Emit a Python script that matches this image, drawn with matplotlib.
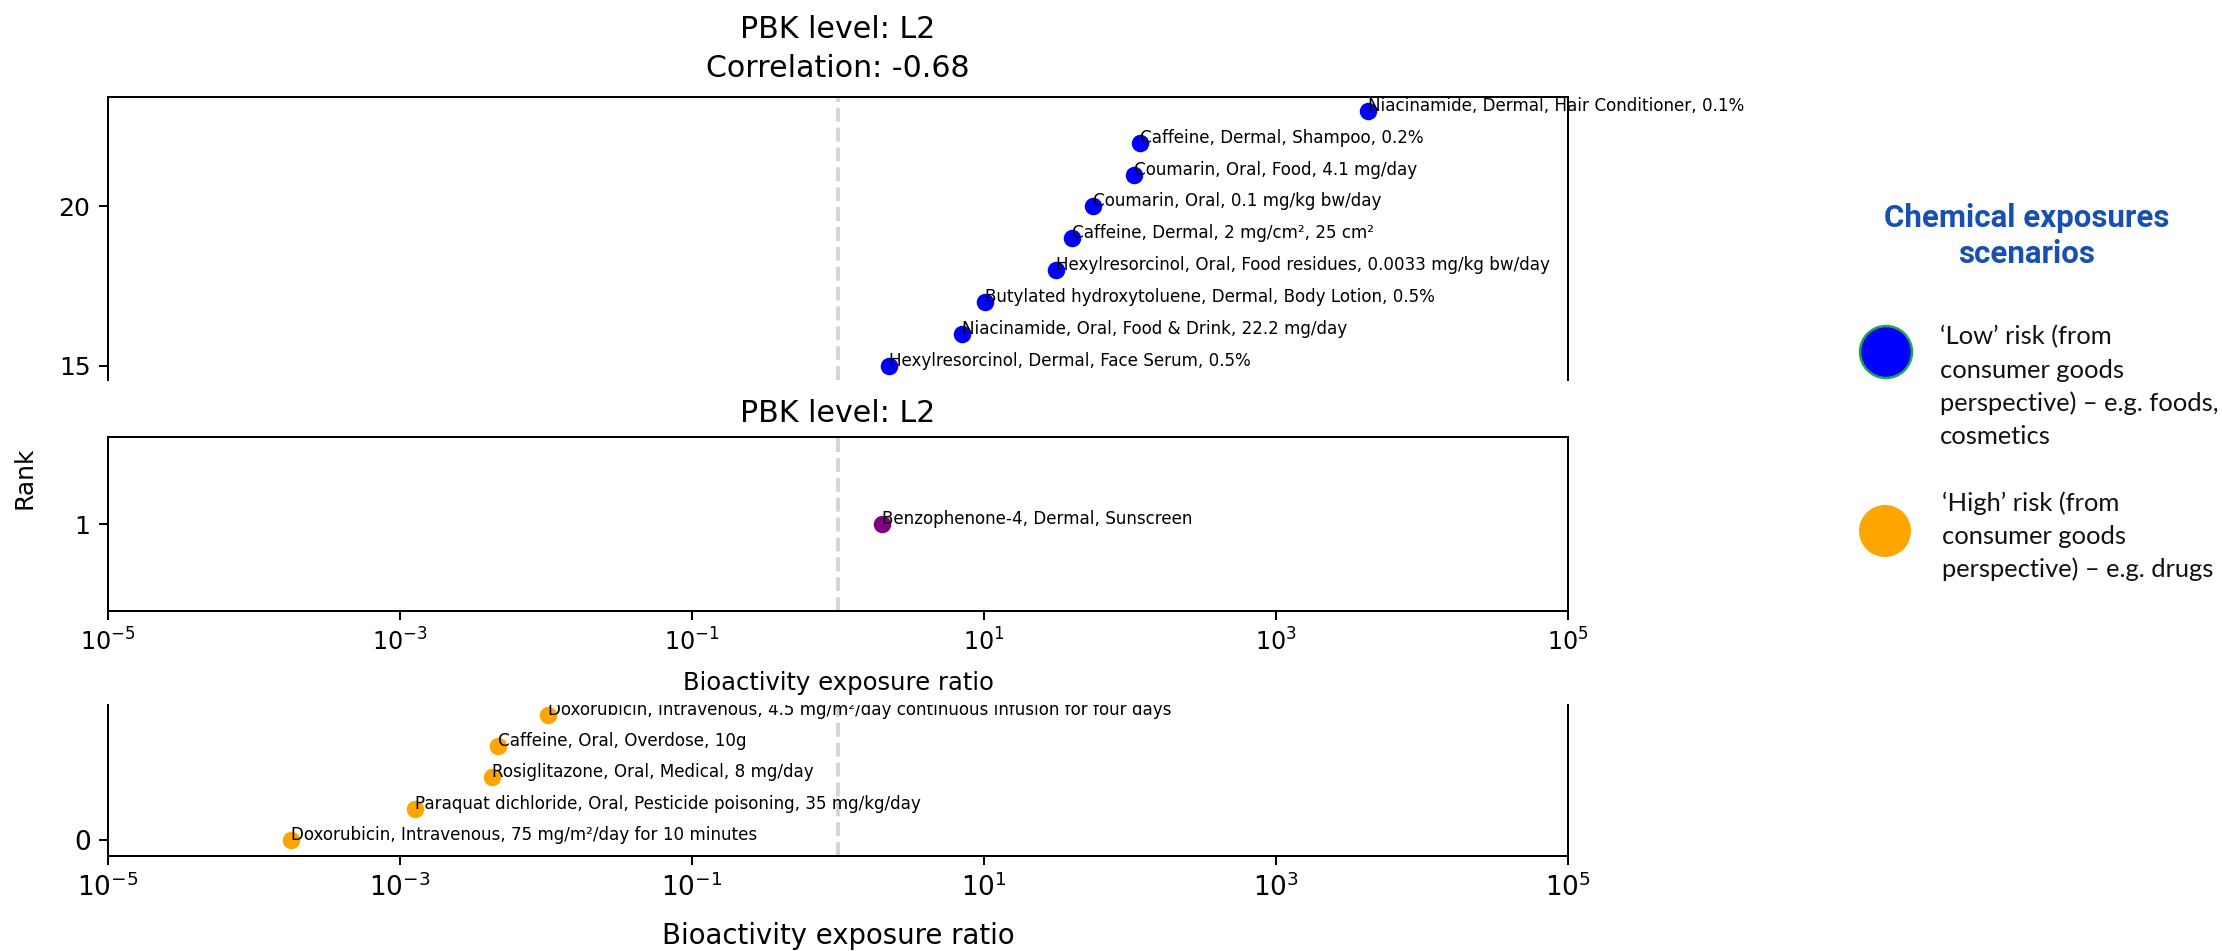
import matplotlib.pyplot as plt
from matplotlib.patches import Circle

# ---- data ----
low_labels = [
    "Niacinamide, Dermal, Hair Conditioner, 0.1%",
    "Caffeine, Dermal, Shampoo, 0.2%",
    "Coumarin, Oral, Food, 4.1 mg/day",
    "Coumarin, Oral, 0.1 mg/kg bw/day",
    "Caffeine, Dermal, 2 mg/cm², 25 cm²",
    "Hexylresorcinol, Oral, Food residues, 0.0033 mg/kg bw/day",
    "Butylated hydroxytoluene, Dermal, Body Lotion, 0.5%",
    "Niacinamide, Oral, Food & Drink, 22.2 mg/day",
    "Hexylresorcinol, Dermal, Face Serum, 0.5%",
]
low_rank = [23, 22, 21, 20, 19, 18, 17, 16, 15]
low_ratio = [4300, 118, 107, 56, 40, 31, 10.2, 7.1, 2.24]

mid_labels = ["Benzophenone-4, Dermal, Sunscreen"]
mid_rank = [1]
mid_ratio = [2.0]

high_labels = [
    "Doxorubicin, Intravenous, 4.5 mg/m²/day continuous infusion for four days",
    "Caffeine, Oral, Overdose, 10g",
    "Rosiglitazone, Oral, Medical, 8 mg/day",
    "Paraquat dichloride, Oral, Pesticide poisoning, 35 mg/kg/day",
    "Doxorubicin, Intravenous, 75 mg/m²/day for 10 minutes",
]
high_rank = [4, 3, 2, 1, 0]
high_ratio = [0.0104, 0.0047, 0.0043, 0.00126, 0.00018]

xticks = [1e-5, 1e-3, 1e-1, 1e1, 1e3, 1e5]

legend_title = "Chemical exposures\nscenarios"
legend_low = ["‘Low’ risk (from", "consumer goods", "perspective) – e.g. foods,", "cosmetics"]
legend_high = ["‘High’ risk (from", "consumer goods", "perspective) – e.g. drugs"]

W, H = 2222, 951
DPI = 180
ANN = 6.7  # annotation font size


def box(left, top, right, bottom):
    # pixel box -> figure fraction rect
    return [left / W, 1 - bottom / H, (right - left) / W, (bottom - top) / H]


def setup(ax, tick_fs=10):
    ax.set_xscale('log')
    ax.set_xlim(1e-5, 1e5)
    ax.set_xticks(xticks)
    ax.minorticks_off()
    ax.tick_params(labelsize=tick_fs)
    ax.axvline(1, color='lightgray', ls='--', zorder=0)


fig = plt.figure(figsize=(W / DPI, H / DPI), dpi=DPI)

# legend / overlay layer in pixel coords
lax = fig.add_axes([0, 0, 1, 1])
lax.set_xlim(0, W)
lax.set_ylim(H, 0)
lax.axis('off')

# top panel (low risk)
ax1 = fig.add_axes(box(108, 97, 1568, 380))
setup(ax1)
ax1.scatter(low_ratio, low_rank, color='blue')
for x, y, t in zip(low_ratio, low_rank, low_labels):
    ax1.text(x, y, t, fontsize=ANN, clip_on=False)
ax1.set_ylim(14.56, 23.43)
ax1.set_yticks([15, 20])
ax1.spines['bottom'].set_visible(False)
ax1.tick_params(axis='x', bottom=False, labelbottom=False)
ax1.set_title("PBK level: L2\nCorrelation: -0.68", linespacing=1.45, pad=8)

# middle panel
ax2 = fig.add_axes(box(108, 437, 1568, 611))
setup(ax2, tick_fs=9.5)
ax2.tick_params(axis='y', labelsize=10)
ax2.scatter(mid_ratio, mid_rank, color='purple')
for x, y, t in zip(mid_ratio, mid_rank, mid_labels):
    ax2.text(x, y, t, fontsize=ANN)
ax2.set_ylim(0.5, 1.5)
ax2.set_yticks([1])
ax2.set_title("PBK level: L2")
ax2.set_xlabel("Bioactivity exposure ratio", fontsize=9.7, labelpad=6)

# bottom panel (high risk)
ax3 = fig.add_axes(box(108, 705, 1568, 856))
setup(ax3, tick_fs=10.5)
ax3.scatter(high_ratio, high_rank, color='orange')
for x, y, t in zip(high_ratio, high_rank, high_labels):
    ax3.text(x, y, t, fontsize=ANN, clip_on=True)
ax3.set_ylim(-0.51, 4.31)
ax3.set_yticks([0])
ax3.spines['top'].set_visible(False)
ax3.set_xlabel("Bioactivity exposure ratio", fontsize=11, labelpad=8)

fig.text(25 / W, 1 - 478 / H, "Rank", rotation=90, fontsize=10,
         ha='center', va='center')

# legend on the right
lax.text(2027, 236, legend_title, ha='center', va='center', fontsize=12.5,
         fontweight='bold', color='#1650B4', family='Roboto', linespacing=1.25)
lax.add_patch(Circle((1886, 352), 26, facecolor='blue', edgecolor='#1DA84A', lw=1))
lax.add_patch(Circle((1885, 531), 26, facecolor='orange', edgecolor='none'))
for i, line in enumerate(legend_low):
    lax.text(1940, 337 + i * 33, line, va='center', ha='left',
             fontsize=10.2, family='Lato', color='#111111')
for i, line in enumerate(legend_high):
    lax.text(1942, 503 + i * 33, line, va='center', ha='left',
             fontsize=10.2, family='Lato', color='#111111')

fig.savefig('out.png', dpi=DPI)
